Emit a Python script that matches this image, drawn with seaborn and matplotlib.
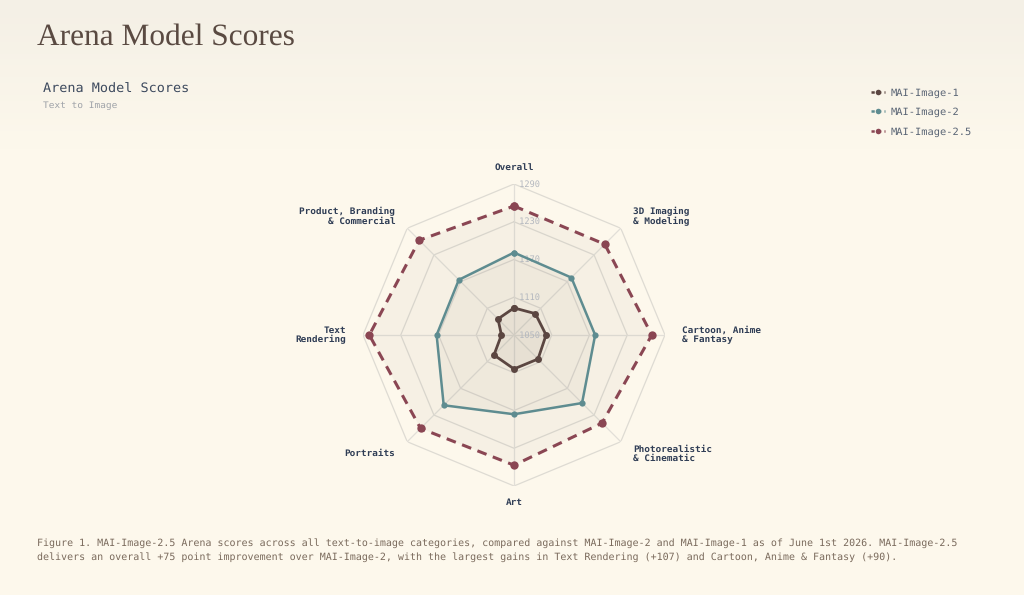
import numpy as np
import pandas as pd
import matplotlib
matplotlib.use("Agg")
import matplotlib.pyplot as plt
from matplotlib.lines import Line2D
import seaborn as sns

# Dados
categories = ["Overall", "3D Imaging\n& Modeling", "Cartoon, Anime\n& Fantasy",
              "Photorealistic\n& Cinematic", "Art", "Portraits", "Text\nRendering",
              "Product, Branding\n& Commercial"]
mai_image_1 = [1093, 1098, 1101, 1104, 1104, 1095, 1070, 1086]
mai_image_2 = [1181, 1179, 1179, 1203, 1176, 1208, 1173, 1174]
mai_image_25 = [1255, 1254, 1269, 1248, 1257, 1260, 1280, 1263]
models = ["MAI-Image-1", "MAI-Image-2", "MAI-Image-2.5"]
rings = [1050, 1110, 1170, 1230, 1290]

colors = {"MAI-Image-1": "#5b4641", "MAI-Image-2": "#5e8c90", "MAI-Image-2.5": "#8a4653"}
bg = "#fdf8ec"

sns.set_style("white")
plt.rcParams["font.family"] = ["DejaVu Sans Mono"]
plt.rcParams["text.hinting"] = "no_hinting"

fig = plt.figure(figsize=(10.24, 5.95), dpi=100)
fig.patch.set_facecolor(bg)

# Fundo com leve gradiente no topo
bgax = fig.add_axes([0, 0, 1, 1], zorder=-10)
grad = np.ones((100, 1))
grad[:, 0] = np.clip(np.linspace(0, 1, 100) / 0.25, 0, 1)
top = np.array([244, 240, 230]) / 255
bot = np.array([253, 248, 236]) / 255
img = top[None, None, :] * (1 - grad[:, :, None]) + bot[None, None, :] * grad[:, :, None]
bgax.imshow(img, aspect="auto", extent=[0, 1, 0, 1], origin="upper")
bgax.axis("off")

ax = fig.add_axes([0.3545, 0.1832, 0.2949, 0.5076], projection="polar")
ax.set_facecolor("none")
ax.set_theta_zero_location("N")
ax.set_theta_direction(-1)
ax.set_ylim(1050, 1290)
ax.grid(False)
ax.spines["polar"].set_visible(False)

n = len(categories)
angles = np.linspace(0, 2 * np.pi, n, endpoint=False)
closed = np.append(angles, 2 * np.pi)

# Grade octogonal e raios
for r in rings[1:]:
    ax.plot(closed, [r] * (n + 1), color="#dedbd3", lw=0.9, zorder=1)
for a in angles:
    ax.plot([a, a], [1050, 1290], color="#e2dfd8", lw=0.9, zorder=1)

# Séries
series = {"MAI-Image-1": mai_image_1, "MAI-Image-2": mai_image_2, "MAI-Image-2.5": mai_image_25}
styles = {"MAI-Image-1": dict(lw=2.0, dashes=None, ms=5),
          "MAI-Image-2": dict(lw=1.8, dashes=None, ms=4.5),
          "MAI-Image-2.5": dict(lw=2.2, dashes=(3.2, 2.2), ms=6)}
fills = {"MAI-Image-1": 0.08, "MAI-Image-2": 0.06, "MAI-Image-2.5": 0.06}
for m in ["MAI-Image-2.5", "MAI-Image-2", "MAI-Image-1"]:
    vals = series[m] + [series[m][0]]
    df = pd.DataFrame({"theta": closed, "score": vals})
    ax.fill(closed, vals, color="#8a7a6a", alpha=fills[m], lw=0, zorder=2)
    st = styles[m]
    sns.lineplot(data=df, x="theta", y="score", sort=False, ax=ax, color=colors[m],
                 lw=st["lw"], zorder=4, marker="o", markersize=st["ms"],
                 markeredgewidth=0, clip_on=False)
    line = ax.get_lines()[-1]
    if st["dashes"] is not None:
        line.set_dashes(st["dashes"])
ax.set_xlabel("")
ax.set_ylabel("")
ax.set_xticks([])
ax.set_yticks([])

# Rótulos de anel
for r in rings:
    ax.text(np.deg2rad(0), r, " " + str(r), fontsize=6.2, color="#b4b8bf",
            ha="left", va="center", zorder=3)

# Rótulos das categorias
lab_r = 1050 + 168 / 151 * 240
for a, c in zip(angles, categories):
    deg = np.rad2deg(a)
    if deg < 1 or abs(deg - 180) < 1:
        ha = "center"
    elif deg < 180:
        ha = "left"
    else:
        ha = "right"
    ax.text(a, lab_r, c, fontsize=6.75, fontweight="bold", color="#2f3d55",
            ha=ha, va="center", multialignment=ha, linespacing=1.05)

# Títulos
fig.text(37 / 1024, 1 - 37 / 595, "Arena Model Scores", family="Liberation Serif",
         fontsize=22.6, color="#5a4a42", ha="left", va="center")
fig.text(43 / 1024, 1 - 89 / 595, "Arena Model Scores", fontsize=9.7,
         color="#3d4a5e", ha="left", va="center")
fig.text(43 / 1024, 1 - 106 / 595, "Text to Image", fontsize=6.8,
         color="#9ea2a8", ha="left", va="center")

# Legenda
handles = []
for m in models:
    h = Line2D([0], [0], color=colors[m], lw=1.8, dashes=(1.3, 1.3), marker="o",
               markersize=4, markeredgewidth=0)
    handles.append(h)
leg = fig.legend(handles, models, loc="upper left", bbox_to_anchor=(871 / 1024, 1 - 88 / 595),
                 frameon=False, handlelength=1.35, handletextpad=0.55, labelspacing=0.92,
                 fontsize=7.5, borderaxespad=0, borderpad=0)
for t in leg.get_texts():
    t.set_color("#5a6575")

# Legenda da figura
caption = ("Figure 1. MAI-Image-2.5 Arena scores across all text-to-image categories, compared against "
           "MAI-Image-2 and MAI-Image-1 as of June 1st 2026. MAI-Image-2.5\n"
           "delivers an overall +75 point improvement over MAI-Image-2, with the largest gains in Text "
           "Rendering (+107) and Cartoon, Anime & Fantasy (+90).")
fig.text(37 / 1024, 1 - 550 / 595, caption, fontsize=7.21, color="#7a6a5c",
         ha="left", va="center", linespacing=1.45)

plt.savefig("out.png", dpi=100, facecolor=bg)
plt.close()
